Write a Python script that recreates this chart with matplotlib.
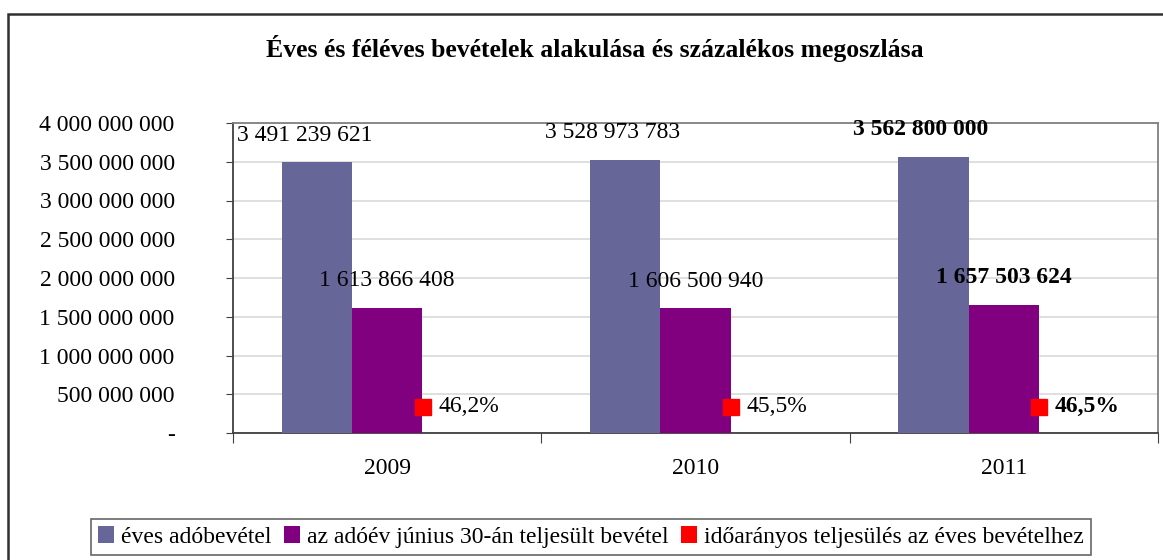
#!/usr/bin/env python3
"""
Annual and half-year revenue, grouped bars with percentage labels.
"""

import matplotlib.pyplot as plt
from matplotlib.patches import Patch, Rectangle
from matplotlib.transforms import ScaledTranslation
import numpy as np

plt.rcParams['font.family'] = ['Liberation Serif', 'DejaVu Serif']

years = ['2009', '2010', '2011']
annual = [3491239621, 3528973783, 3562800000]
half_year = [1613866408, 1606500940, 1657503624]
ratio = [46.2, 45.5, 46.5]
bold_flags = [False, False, True]

series_names = ['éves adóbevétel',
                'az adóév június 30-án teljesült bevétel',
                'időarányos teljesülés az éves bevételhez']
colors = ['#666699', '#800080', '#FF0000']


def fmt_num(v):
    if v == 0:
        return '-'
    return f'{int(v):,}'.replace(',', ' ')


fig = plt.figure(figsize=(11.63, 5.6), dpi=100)
ax = fig.add_axes([233 / 1163, 1 - 433 / 560, (1158 - 233) / 1163, (433 - 123) / 560])

x = np.arange(len(years))
w = 0.228
fs = 17

ax.bar(x - w, annual, w, color=colors[0], zorder=3)
ax.bar(x, half_year, w, color=colors[1], zorder=3)
# third series: tiny bars, only their labels are visible
ax.bar(x + w, [r / 100 for r in ratio], w, color=colors[2], zorder=3)

ax.set_xlim(-0.5, 2.5)
ax.set_ylim(0, 4000000000)

# data labels
key_shift = ScaledTranslation(-25 / 72, 19 / 72, fig.dpi_scale_trans)
for i in range(len(years)):
    fw = 'bold' if bold_flags[i] else 'normal'
    ax.annotate(fmt_num(annual[i]), (x[i] - w, annual[i]), xytext=(-9, 19.5),
                textcoords='offset points', ha='center', va='center',
                fontsize=fs, fontweight=fw)
    ax.annotate(fmt_num(half_year[i]), (x[i], half_year[i]), xytext=(0, 19.5),
                textcoords='offset points', ha='center', va='center',
                fontsize=fs, fontweight=fw)
    ax.annotate(f'{ratio[i]:.1f}%'.replace('.', ','), (x[i] + w, 0), xytext=(-14, 19),
                textcoords='offset points', ha='left', va='center',
                fontsize=fs, fontweight=fw)
    # legend key of the percentage label
    ax.plot([x[i] + w], [0], marker='s', markersize=11, color=colors[2],
            linestyle='none', zorder=5, transform=ax.transData + key_shift,
            clip_on=False)

# y axis
yticks = np.arange(0, 4000000001, 500000000)
ax.set_yticks(yticks)
ax.set_yticklabels([fmt_num(v) for v in yticks], fontsize=fs)
ax.tick_params(axis='y', direction='out', length=5, pad=37, color='#404040')
ax.grid(axis='y', color='#d9d9d9', linewidth=1.2, zorder=0)

# x axis: ticks between categories, labels at centers
ax.set_xticks([-0.5, 0.5, 1.5, 2.5])
ax.set_xticklabels([])
ax.tick_params(axis='x', which='major', direction='out', length=7, color='#404040')
ax.set_xticks(x, minor=True)
ax.set_xticklabels(years, minor=True, fontsize=fs)
ax.tick_params(axis='x', which='minor', length=0, pad=18)

for side in ['left', 'bottom']:
    ax.spines[side].set_color('#404040')
    ax.spines[side].set_linewidth(1.3)
for side in ['top', 'right']:
    ax.spines[side].set_color('#808080')
    ax.spines[side].set_linewidth(1.3)

fig.text(595 / 1163, 1 - 48 / 560, 'Éves és féléves bevételek alakulása és százalékos megoszlása',
         ha='center', va='center', fontsize=18.5, fontweight='bold')

# legend
handles = [Patch(facecolor=c, edgecolor='none') for c in colors]
leg = fig.legend(handles, series_names, loc='center', bbox_to_anchor=(591 / 1163, 1 - 537 / 560),
                 ncol=3, fontsize=fs, frameon=True, fancybox=False, edgecolor='#404040',
                 handlelength=0.7, handleheight=0.7, handletextpad=0.3, columnspacing=0.5,
                 borderpad=0.3)
leg.get_frame().set_linewidth(1.2)

# outer chart border
fig.patches.append(Rectangle((8 / 1163, -0.05), 1.1, 1 - 14 / 560 + 0.05, transform=fig.transFigure,
                             fill=False, edgecolor='#303030', linewidth=1.8))

plt.savefig('out.png', dpi=100)
